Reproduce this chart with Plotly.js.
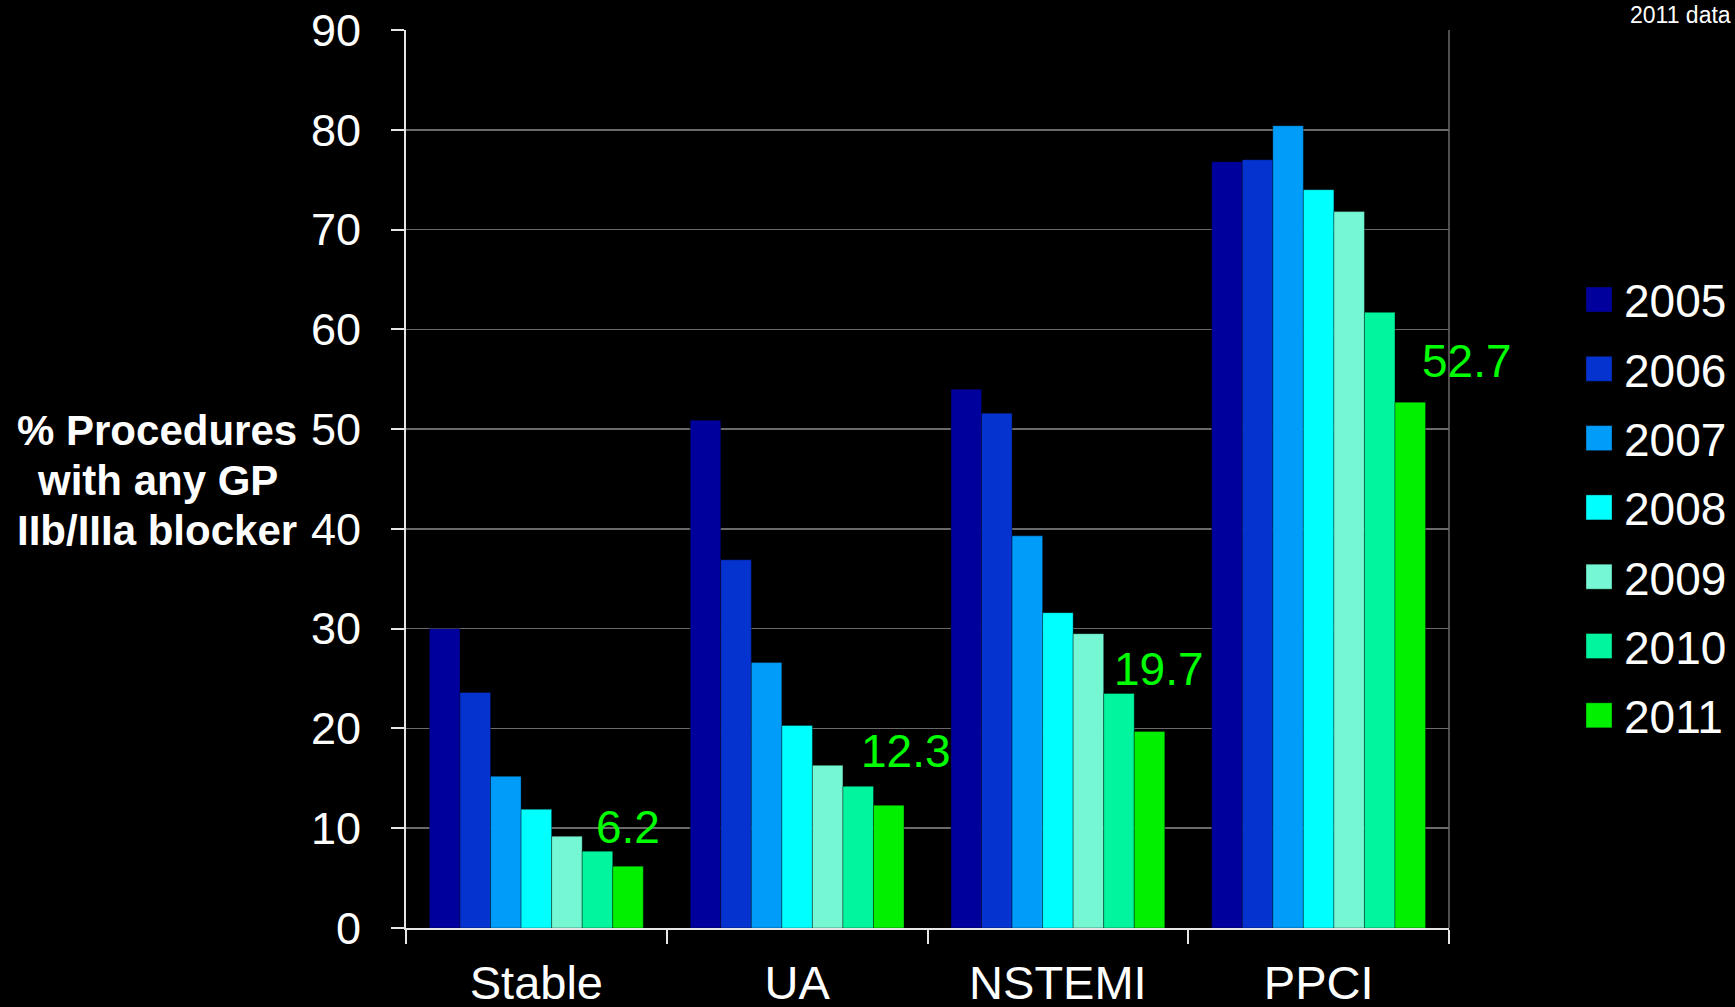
<!DOCTYPE html>
<html>
<head>
<meta charset="utf-8">
<script src="https://cdn.plot.ly/plotly-3.0.1.min.js"></script>
<style>
  html, body { margin: 0; padding: 0; background: #000; }
  #chart { width: 1735px; height: 1007px; }
</style>
</head>
<body>
<div id="chart"></div>
<script>
// ---- data ----
const categories = ['Stable', 'UA', 'NSTEMI', 'PPCI'];
const years = ['2005', '2006', '2007', '2008', '2009', '2010', '2011'];
const v2005 = [30.0, 50.9, 54.0, 76.8];
const v2006 = [23.6, 36.9, 51.6, 77.0];
const v2007 = [15.2, 26.6, 39.3, 80.4];
const v2008 = [11.9, 20.3, 31.6, 74.0];
const v2009 = [9.2, 16.3, 29.5, 71.8];
const v2010 = [7.7, 14.2, 23.5, 61.7];
const v2011 = [6.2, 12.3, 19.7, 52.7];
const labels2011 = ['6.2', '12.3', '19.7', '52.7'];
const yTickVals = [0, 10, 20, 30, 40, 50, 60, 70, 80, 90];
const yTitleLines = ['% Procedures', 'with any GP', 'IIb/IIIa blocker'];
const noteText = '2011 data';

// ---- styling ----
const seriesValues = [v2005, v2006, v2007, v2008, v2009, v2010, v2011];
const colors = ['#00009c', '#0433cf', '#009cfa', '#00ffff', '#74f7d2', '#00f59e', '#00f000'];
const FONT = 'Liberation Sans, Arial, sans-serif';

const W = 1735, H = 1007, L = 406, R = 286, T = 30, B = 79;
const pw = W - L - R, ph = H - T - B;
const px = x => (x - L) / pw;
const py = y => (H - B - y) / ph;

const traces = years.map((yr, i) => ({
  type: 'bar',
  name: yr,
  x: categories,
  y: seriesValues[i],
  marker: { color: colors[i], line: { color: 'rgba(0,0,0,0.35)', width: 1 } },
  showlegend: false,
  hoverinfo: 'x+y+name'
}));

const annotations = [];
const shapes = [];

// value labels for 2011
const lblX = [92, 109, 101, 148];
const lblY = [39, 54, 62, 41];
categories.forEach((c, i) => {
  annotations.push({
    x: c, y: v2011[i], xref: 'x', yref: 'y',
    text: labels2011[i], showarrow: false,
    xanchor: 'center', yanchor: 'middle',
    xshift: lblX[i], yshift: lblY[i],
    font: { family: FONT, size: 46, color: '#00ff00' }
  });
});

// y title (three lines, bold)
const titleY = [431, 481, 530];
yTitleLines.forEach((t, i) => {
  annotations.push({
    x: px(157), y: py(titleY[i]), xref: 'paper', yref: 'paper',
    text: '<b>' + t + '</b>', showarrow: false,
    xanchor: 'center', yanchor: 'middle',
    font: { family: FONT, size: 42, color: '#ffffff' }
  });
});

// note top-right
annotations.push({
  x: px(1733), y: py(15), xref: 'paper', yref: 'paper',
  text: noteText, showarrow: false, xanchor: 'right', yanchor: 'middle',
  font: { family: FONT, size: 23, color: '#ffffff' }
});

// manual legend
years.forEach((yr, i) => {
  const cy = 299.5 + 69.3 * i;
  shapes.push({
    type: 'rect', xref: 'paper', yref: 'paper',
    x0: px(1586), x1: px(1612), y0: py(cy - 12.5), y1: py(cy + 12.5),
    fillcolor: colors[i], line: { color: 'rgba(0,0,0,0.35)', width: 1 }
  });
  annotations.push({
    x: px(1622), y: py(cy + 2), xref: 'paper', yref: 'paper',
    text: yr, showarrow: false, xanchor: 'left', yanchor: 'middle',
    font: { family: FONT, size: 46, color: '#ffffff' }
  });
});

// right border of plot
shapes.push({
  type: 'line', xref: 'paper', yref: 'paper', x0: 1, x1: 1, y0: 0, y1: 1,
  line: { color: '#6a6a6a', width: 1.5 }
});

const layout = {
  width: W, height: H,
  margin: { l: L, r: R, t: T, b: B, pad: 0 },
  paper_bgcolor: '#000000',
  plot_bgcolor: '#000000',
  barmode: 'group',
  bargap: 0.18,
  bargroupgap: 0,
  showlegend: false,
  font: { family: FONT, color: '#ffffff' },
  xaxis: {
    type: 'category',
    range: [-0.5, 3.5],
    showline: true, linecolor: '#e6e6e6', linewidth: 2,
    ticks: 'outside', tickson: 'boundaries', ticklen: 14, tickwidth: 2, tickcolor: '#e6e6e6',
    showgrid: false, zeroline: false,
    tickfont: { family: FONT, size: 47, color: '#ffffff' },
    ticklabelstandoff: 13
  },
  yaxis: {
    range: [0, 90],
    tickvals: yTickVals,
    ticktext: yTickVals.map(String),
    showline: true, linecolor: '#e6e6e6', linewidth: 2,
    ticks: 'outside', ticklen: 13, tickwidth: 2, tickcolor: '#e6e6e6',
    showgrid: true, gridcolor: '#6a6a6a', gridwidth: 1.5,
    zeroline: false,
    tickfont: { family: FONT, size: 45, color: '#ffffff' },
    ticklabelstandoff: 21
  },
  annotations: annotations,
  shapes: shapes
};

Plotly.newPlot('chart', traces, layout, { displayModeBar: false, staticPlot: true });
</script>
</body>
</html>
